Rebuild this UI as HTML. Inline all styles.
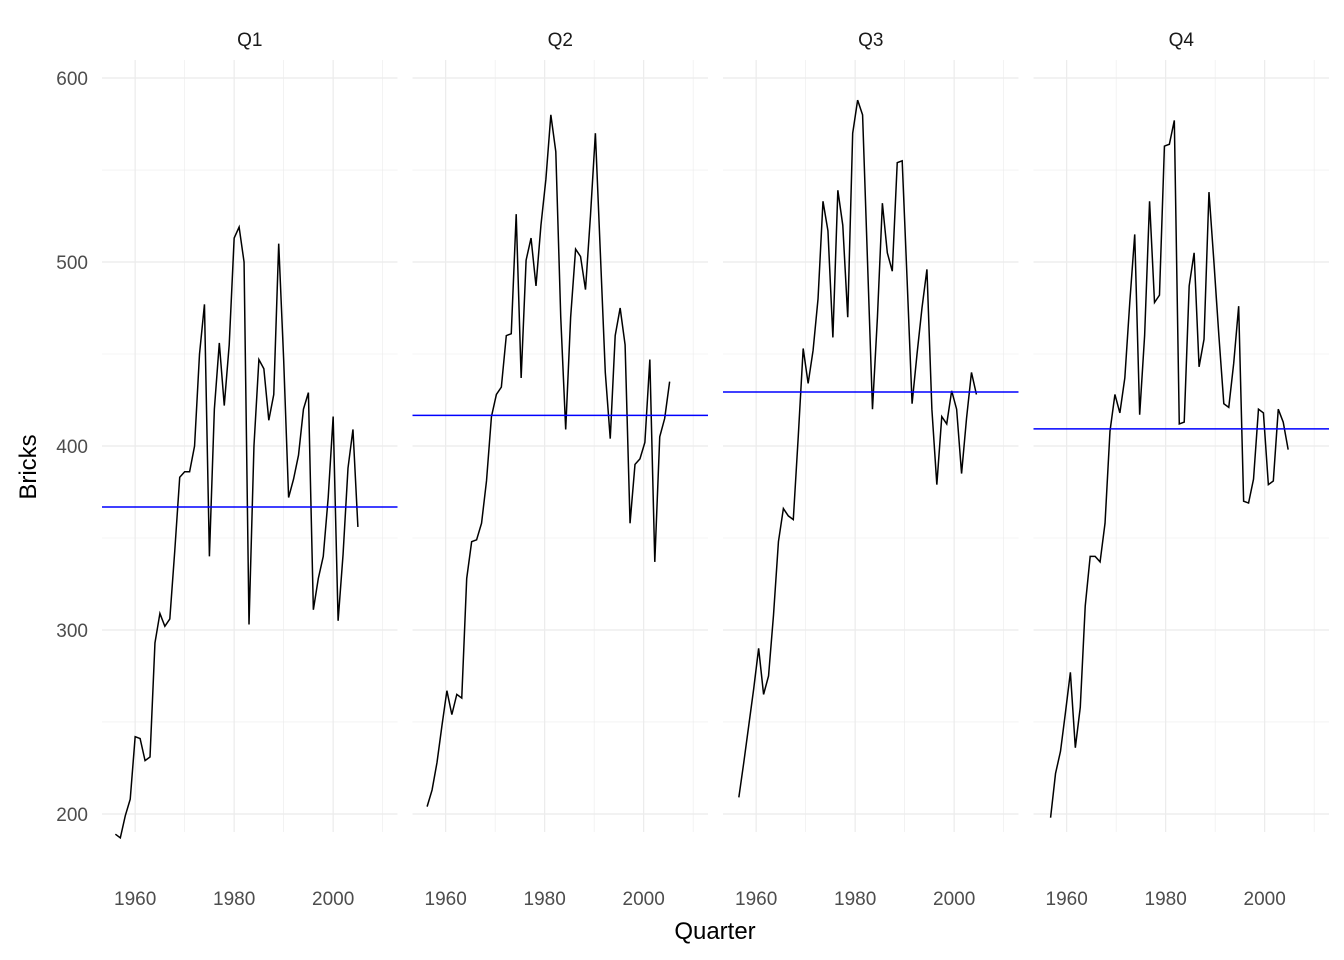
<!DOCTYPE html>
<html><head><meta charset="utf-8"><style>
body{margin:0;background:#fff;}
svg{display:block;font-family:"Liberation Sans",Arial,sans-serif;}
</style></head><body>
<svg id="chart" width="1344" height="960"></svg>
<script>
const quarters = ["Q1","Q2","Q3","Q4"];
const startYear = 1956;
const q1Values = [189,187,199,208,242,241,229,231,293,309,302,306,343,383,386,386,400,450,477,340,420,456,422,455,513,519,500,303,400,447,442,414,428,510,447,372,382,395,420,429,311,328,340,372,416,305,341,388,409,356];
const q2Values = [204,213,228,248,267,254,265,263,328,348,349,358,381,416,428,432,460,461,526,437,501,513,487,520,545,580,560,470,409,470,507,503,485,525,570,505,440,404,460,475,455,358,390,393,402,447,337,405,415,435];
const q3Values = [209,228,248,268,290,265,275,308,348,366,362,360,405,453,434,452,480,533,517,459,539,520,470,570,588,580,500,420,470,532,505,495,554,555,490,423,450,475,496,420,379,416,412,430,420,385,415,440,428];
const q4Values = [198,222,234,255,277,236,258,313,340,340,337,358,408,428,418,437,478,515,417,460,533,478,482,563,564,577,412,413,487,505,443,458,538,500,460,423,421,445,476,370,369,382,420,418,379,381,420,413,398];
const seriesValues = [q1Values,q2Values,q3Values,q4Values];
const yTicks = [200,300,400,500,600];
const xTicks = [1960,1980,2000];

const NS="http://www.w3.org/2000/svg";
const svgEl=document.getElementById('chart');
function mk(tag,attrs,parent){const e=document.createElementNS(NS,tag);for(const k in attrs)e.setAttribute(k,attrs[k]);(parent||svgEl).appendChild(e);return e;}
const panelLeft=[102,412.5,723,1033.5], panelW=295.5;
const plotTop=60, plotBottom=832, yMin=190.2, yMax=609.8, xMin=1953.3, xMax=2013;
const yScale=v=>plotBottom-(v-yMin)/(yMax-yMin)*(plotBottom-plotTop);
const xScale=(p,yr)=>panelLeft[p]+(yr-xMin)/(xMax-xMin)*panelW;

quarters.forEach((q,p)=>{
  const g=mk('g',{});
  
  
  const L=panelLeft[p],R=L+panelW;
  for(let v=250;v<=550;v+=100){const l=mk('line',{x1:L,x2:R,y1:yScale(v),y2:yScale(v),stroke:'#ebebeb','stroke-width':0.6},g);
    
    }
  for(let yr=1950;yr<=2010;yr+=20){const x=xScale(p,yr);if(x<L||x>R)continue;const l=mk('line',{x1:x,x2:x,y1:plotTop,y2:plotBottom,stroke:'#ebebeb','stroke-width':0.6},g);
    
    }
  yTicks.forEach(v=>{const l=mk('line',{x1:L,x2:R,y1:yScale(v),y2:yScale(v),stroke:'#ebebeb','stroke-width':1.2},g);
    
    });
  xTicks.forEach(yr=>{const x=xScale(p,yr);const l=mk('line',{x1:x,x2:x,y1:plotTop,y2:plotBottom,stroke:'#ebebeb','stroke-width':1.2},g);
    
    
    const t=mk('text',{x:x,y:905,'text-anchor':'middle','font-size':19,fill:'#4d4d4d'},g);t.textContent=yr;
    
    });
  const vals=seriesValues[p];
  const pts=vals.map((v,i)=>xScale(p,startYear+i+p*0.25)+','+yScale(v)).join(' ');
  const line=mk('polyline',{points:pts,fill:'none',stroke:'#000','stroke-width':1.5},g);
  
  
  const mean=vals.reduce((a,b)=>a+b,0)/vals.length;
  const ml=mk('line',{x1:L,x2:R,y1:yScale(mean),y2:yScale(mean),stroke:'#0000ff','stroke-width':1.5},g);
  
  
  const st=mk('text',{x:(L+R)/2,y:46,'text-anchor':'middle','font-size':19,fill:'#1a1a1a'},g);
  st.textContent=q;
  
  
});
yTicks.forEach(v=>{const t=mk('text',{x:88,y:yScale(v)+7,'text-anchor':'end','font-size':19,fill:'#4d4d4d'});t.textContent=v;
  
  });
const xt=mk('text',{x:715,y:939,'text-anchor':'middle','font-size':24,fill:'#000'});xt.textContent='Quarter';


const yt=mk('text',{x:0,y:0,'text-anchor':'middle','font-size':24,fill:'#000',transform:'translate(36,467) rotate(-90)'});yt.textContent='Bricks';


</script>
</body></html>
